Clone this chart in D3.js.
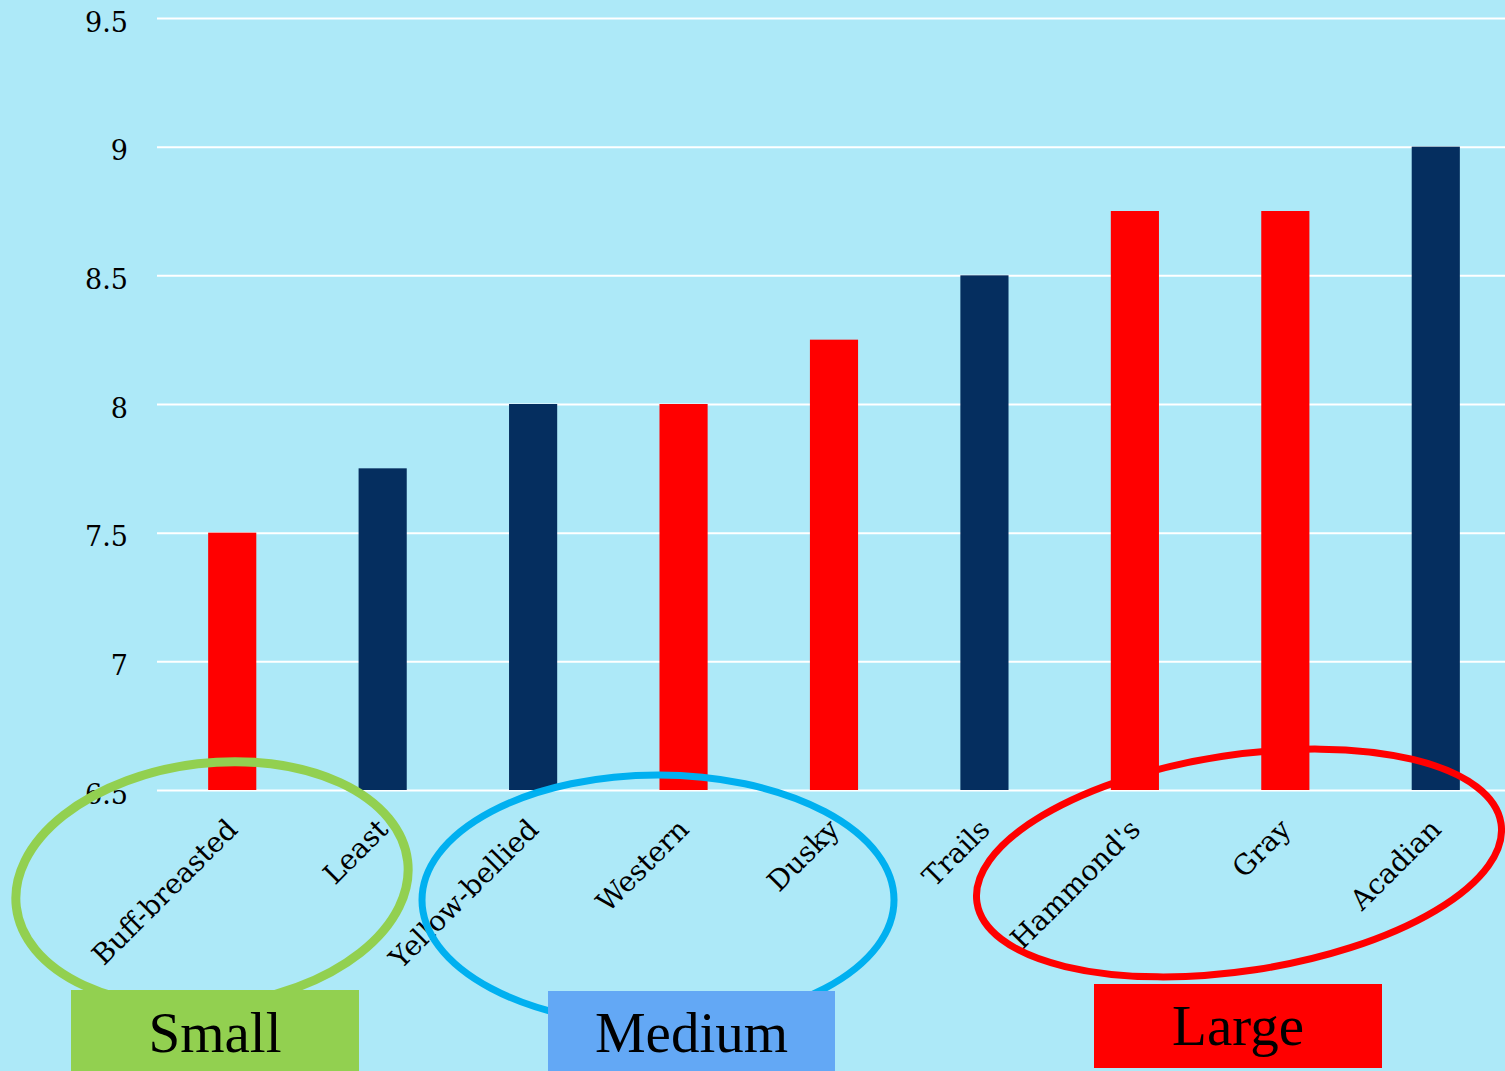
<!DOCTYPE html>
<html>
<head>
<meta charset="utf-8">
<script src="https://cdn.jsdelivr.net/npm/d3@7"></script>
<style>
  html, body { margin: 0; padding: 0; background: #ade9f8; }
  svg { display: block; }
</style>
</head>
<body>
<svg id="chart" width="1505" height="1071"></svg>
<script>
// flycatcher species, ordered by size
var species = ["Buff-breasted", "Least", "Yellow-bellied", "Western", "Dusky", "Trails", "Hammond's", "Gray", "Acadian"];
var values  = [7.5, 7.75, 8, 8, 8.25, 8.5, 8.75, 8.75, 9];
var barKind = ["red", "navy", "navy", "red", "red", "navy", "red", "red", "navy"];
var yTicks  = [6.5, 7, 7.5, 8, 8.5, 9, 9.5];
var groups  = ["Small", "Medium", "Large"];

var W = 1505, H = 1071;
var plotLeft = 157, plotTop = 18, plotBottom = 790;
var kindColor = { red: "#ff0000", navy: "#052e5f" };

// hand drawn rings + label boxes (layout only)
var rings = [
  { cx: 212,  cy: 884, rx: 197, ry: 121, rot: -6.7, color: "#92d050", w: 9 },
  { cx: 658,  cy: 900, rx: 236, ry: 125, rot: 0,    color: "#00b0f0", w: 7 },
  { cx: 1239, cy: 863, rx: 265, ry: 108, rot: -8.6, color: "#ff0000", w: 7 }
];
var boxes = [
  { x: 71,   y: 990, w: 288, h: 90, fill: "#92d050", base: 1052 },
  { x: 548,  y: 991, w: 287, h: 90, fill: "#63a8f5", base: 1052 },
  { x: 1094, y: 984, w: 288, h: 84, fill: "#ff0000", base: 1045 }
];

var svg = d3.select("#chart");
svg.append("rect").attr("width", W).attr("height", H).attr("fill", "#ade9f8");

var x = d3.scaleBand()
  .domain(species)
  .range([plotLeft, 1511])
  .paddingInner(0.68)
  .paddingOuter(0.34);

var y = d3.scaleLinear().domain([6.5, 9.5]).range([plotBottom, plotTop]);

// gridlines + tick labels
var yAxis = svg.append("g")
  .attr("transform", "translate(" + plotLeft + ",0)")
  .call(d3.axisLeft(y)
    .tickValues(yTicks)
    .tickFormat(function(d){ return String(d); })
    .tickSize(-(W - plotLeft))
    .tickPadding(29));
yAxis.select(".domain").remove();
yAxis.selectAll(".tick line").attr("stroke", "#ffffff").attr("stroke-width", 2);
yAxis.selectAll(".tick text")
  .attr("fill", "#000")
  .attr("dy", "13px")
  .style("font-family", "'DejaVu Serif', serif")
  .style("font-size", "27px");

// bars
svg.append("g").selectAll("rect")
  .data(species)
  .enter().append("rect")
  .attr("x", function(d){ return x(d); })
  .attr("y", function(d, i){ return y(values[i]); })
  .attr("width", x.bandwidth())
  .attr("height", function(d, i){ return plotBottom - y(values[i]); })
  .attr("fill", function(d, i){ return kindColor[barKind[i]]; });

// category labels, rotated
svg.append("g").selectAll("text")
  .data(species)
  .enter().append("text")
  .attr("transform", function(d){
    return "translate(" + (x(d) + x.bandwidth() / 2 + 7) + ",831) rotate(-45)";
  })
  .attr("text-anchor", "end")
  .style("font-family", "'DejaVu Serif', serif")
  .style("font-size", "28px")
  .attr("fill", "#000")
  .text(function(d){ return d; });

// rings over the chart
svg.append("g").selectAll("ellipse")
  .data(rings)
  .enter().append("ellipse")
  .attr("transform", function(d){ return "translate(" + d.cx + "," + d.cy + ") rotate(" + d.rot + ")"; })
  .attr("rx", function(d){ return d.rx; })
  .attr("ry", function(d){ return d.ry; })
  .attr("fill", "none")
  .attr("stroke", function(d){ return d.color; })
  .attr("stroke-width", function(d){ return d.w; });

// size group boxes
var gb = svg.append("g").selectAll("g")
  .data(groups)
  .enter().append("g");
gb.append("rect")
  .attr("x", function(d, i){ return boxes[i].x; })
  .attr("y", function(d, i){ return boxes[i].y; })
  .attr("width", function(d, i){ return boxes[i].w; })
  .attr("height", function(d, i){ return boxes[i].h; })
  .attr("fill", function(d, i){ return boxes[i].fill; });
gb.append("text")
  .attr("x", function(d, i){ return boxes[i].x + boxes[i].w / 2; })
  .attr("y", function(d, i){ return boxes[i].base; })
  .attr("text-anchor", "middle")
  .style("font-family", "'Liberation Serif', 'Times New Roman', serif")
  .style("font-size", "57px")
  .attr("fill", "#000")
  .text(function(d){ return d; });
</script>
</body>
</html>
